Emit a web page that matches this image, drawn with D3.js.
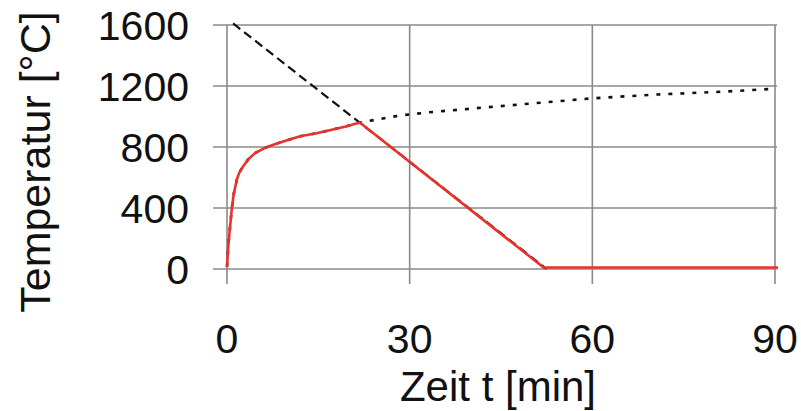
<!DOCTYPE html>
<html><head><meta charset="utf-8">
<script src="https://cdn.jsdelivr.net/npm/d3@7"></script>
<style>
body{margin:0;background:#fff}
svg{display:block}
text{font-family:"Liberation Sans",Arial,sans-serif;fill:#111}
</style></head>
<body><svg id="c" width="801" height="411"></svg>
<script>
// Data
const xTicks = [0, 30, 60, 90];
const yTicks = [0, 400, 800, 1200, 1600];

// Natural fire curve (red)
const fireT = [0, 0.1, 0.2, 0.35, 0.5, 0.8, 1.1, 1.6, 2.0, 2.6, 3.5, 4.6, 6, 7.6, 9.5, 12, 14.7, 17.4, 19.5, 21.8, 52, 90.5];
const fireV = [15, 80, 145, 210, 275, 400, 490, 585, 630, 670, 720, 760, 790, 815, 840, 870, 890, 915, 935, 960, 10, 10];

// Straight cooling line (black dashed)
const coolT = [1, 52.5];
const coolV = [1610, 0];

// Heating curve (black dotted)
const heatT = [0, 0.1, 0.2, 0.35, 0.5, 0.8, 1.1, 1.6, 2.0, 2.6, 3.5, 4.6, 6, 7.6, 9.5, 12, 14.7, 17.4, 19.5, 21.8, 28.4, 33.8, 42, 51.4, 59.6, 69.5, 81.5, 90];
const heatV = [15, 80, 145, 210, 275, 400, 490, 585, 630, 670, 720, 760, 790, 815, 840, 870, 890, 915, 935, 960, 1007, 1030, 1058, 1090, 1118, 1142, 1163, 1182];

const svg = d3.select("#c");
const x = d3.scaleLinear().domain([0, 90]).range([227, 775]);
const y = d3.scaleLinear().domain([0, 1600]).range([269, 25]);
const grid = "#8a8a8a";

// horizontal grid
svg.append("g").selectAll("line").data(yTicks).join("line")
  .attr("x1", 213).attr("x2", 777)
  .attr("y1", d => y(d)).attr("y2", d => y(d))
  .attr("stroke", grid).attr("stroke-width", 1.6);
// vertical grid
svg.append("g").selectAll("line").data(xTicks).join("line")
  .attr("x1", d => x(d)).attr("x2", d => x(d))
  .attr("y1", 25).attr("y2", 284)
  .attr("stroke", grid).attr("stroke-width", 1.6);

// tick labels
svg.append("g").selectAll("text").data(yTicks).join("text")
  .attr("x", 189).attr("y", d => y(d)).attr("dy", "0.36em")
  .attr("text-anchor", "end").attr("font-size", 41).text(d => d);
svg.append("g").selectAll("text").data(xTicks).join("text")
  .attr("x", d => x(d)).attr("y", 353)
  .attr("text-anchor", "middle").attr("font-size", 41).text(d => d);

// axis titles
svg.append("text").attr("x", 498).attr("y", 401).attr("text-anchor", "middle")
  .attr("font-size", 42).text("Zeit t [min]");
svg.append("text").attr("transform", "translate(50,162) rotate(-90)")
  .attr("text-anchor", "middle").attr("font-size", 43).text("Temperatur [°C]");

const line = d3.line().x(d => x(d[0])).y(d => y(d[1]));
const zip = (a, b) => a.map((v, i) => [v, b[i]]);

svg.append("path").datum(zip(heatT, heatV)).attr("d", line)
  .attr("fill", "none").attr("stroke", "#111").attr("stroke-width", 2.6)
  .attr("stroke-dasharray", "4,8");
svg.append("path").datum(zip(coolT, coolV)).attr("d", line)
  .attr("fill", "none").attr("stroke", "#111").attr("stroke-width", 2.2)
  .attr("stroke-dasharray", "9,5");
svg.append("path").datum(zip(fireT, fireV)).attr("d", line)
  .attr("fill", "none").attr("stroke", "#e8322c").attr("stroke-width", 2.6)
  .attr("stroke-linejoin", "round");
</script></body></html>
